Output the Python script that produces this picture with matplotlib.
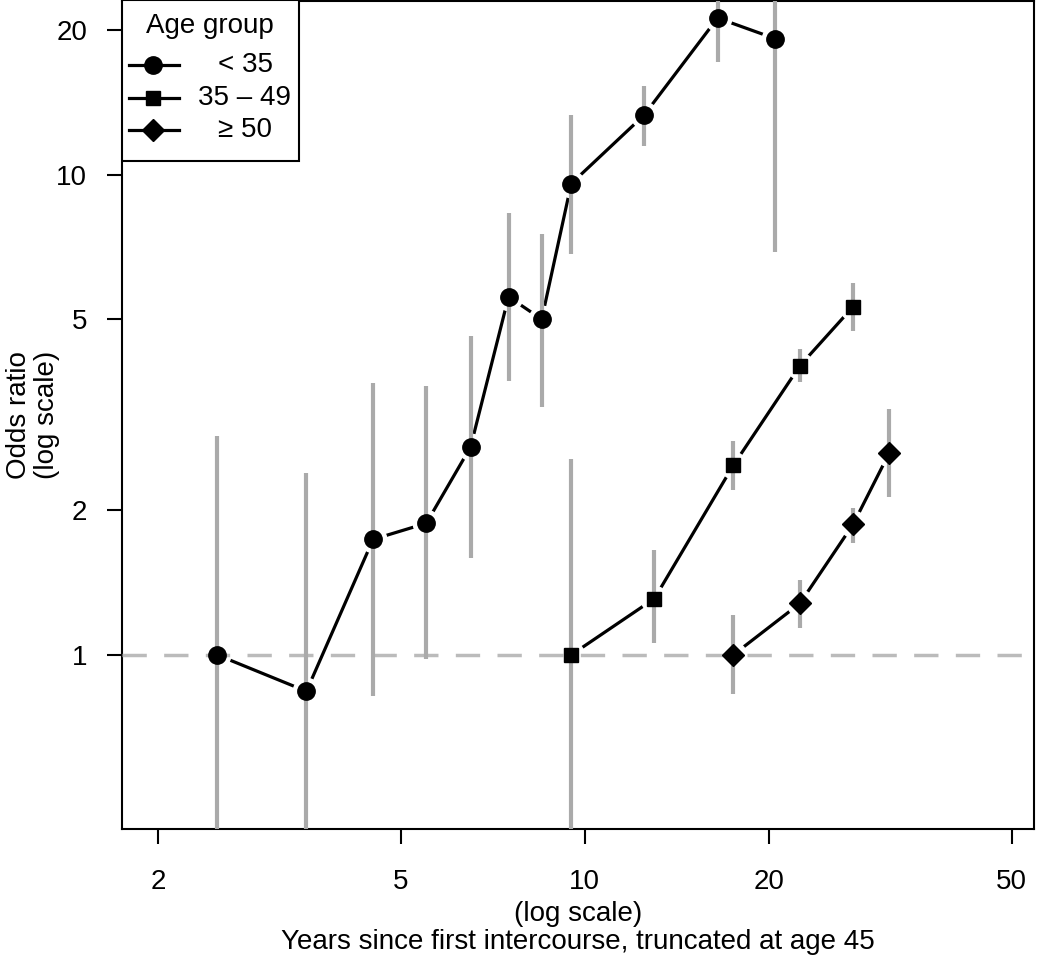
import numpy as np
import matplotlib.pyplot as plt
from matplotlib.patches import Rectangle
from matplotlib.lines import Line2D

plt.rcParams['font.family'] = ['Liberation Sans', 'DejaVu Sans']

# data
x_young = [2.5, 3.5, 4.5, 5.5, 6.5, 7.5, 8.5, 9.5, 12.5, 16.5, 20.5]
or_young = [1.0, 0.84, 1.74, 1.88, 2.71, 5.57, 5.0, 9.58, 13.3, 21.2, 19.2]
lo_young = [0.3, 0.3, 0.82, 0.98, 1.59, 3.72, 3.28, 6.85, 11.5, 17.2, 6.9]
hi_young = [2.85, 2.39, 3.69, 3.63, 4.62, 8.33, 7.54, 13.3, 15.3, 30.0, 30.0]

x_mid = [9.5, 13.0, 17.5, 22.5, 27.5]
or_mid = [1.0, 1.31, 2.48, 4.0, 5.31]
lo_mid = [0.3, 1.06, 2.2, 3.7, 4.73]
hi_mid = [2.56, 1.65, 2.79, 4.34, 5.96]

x_old = [17.5, 22.5, 27.5, 31.5]
or_old = [1.0, 1.28, 1.87, 2.63]
lo_old = [0.83, 1.14, 1.71, 2.13]
hi_old = [1.21, 1.43, 2.02, 3.25]

labels = ['< 35', '35 \u2013 49', '\u2265 50']
x_ticks = [2, 5, 10, 20, 50]
y_ticks = [1, 2, 5, 10, 20]

W, H = 1050, 959
fig = plt.figure(figsize=(W / 100, H / 100), dpi=100)
ax = fig.add_axes([122 / W, (H - 829) / H, 912 / W, 828 / H])
ax.set_xscale('log')
ax.set_yscale('log')
ax.set_xlim(1.746, 54.4)
ax.set_ylim(0.434, 23.0)

grey = '#aaaaaa'
markers = [('o', 12.5), ('s', 10.5), ('D', 11)]
groups = [(x_young, or_young, lo_young, hi_young),
          (x_mid, or_mid, lo_mid, hi_mid),
          (x_old, or_old, lo_old, hi_old)]

for (xs, ys, lo, hi), (m, ms) in zip(groups, markers):
    ax.plot(xs, ys, color='black', lw=2.3, zorder=2)
    # white halo gives the R type="b" gaps around the points
    ax.plot(xs, ys, ls='none', marker='o', ms=19, color='white', zorder=3)
    ax.vlines(xs, lo, hi, color=grey, lw=3, zorder=4)
    ax.plot(xs, ys, ls='none', marker=m, ms=ms, color='black', zorder=5)

ax.axhline(1, color='#bbbbbb', lw=2.5, dashes=(7, 5), zorder=3.5)

ax.set_xticks(x_ticks)
ax.set_xticklabels([str(t) for t in x_ticks])
ax.set_yticks(y_ticks)
ax.set_yticklabels([str(t) for t in y_ticks])
ax.minorticks_off()
ax.tick_params(axis='both', length=11, width=1.5, labelsize=20, direction='out')
ax.tick_params(axis='x', pad=18)
ax.tick_params(axis='y', pad=14)
for s in ax.spines.values():
    s.set_linewidth(1.5)

ax.set_xlabel('(log scale)\nYears since first intercourse, truncated at age 45',
              fontsize=20, linespacing=1.1)
ax.set_ylabel('Odds ratio\n(log scale)', fontsize=20, linespacing=1.1)
ax.yaxis.set_label_coords((60 - 122) / 912, 0.5)


# legend drawn by hand, positions in pixels of the figure
def axf(px, py):
    return (px - 122) / 912, (829 - py) / 828


x0, y0 = axf(122, 161)
x1, y1 = axf(299, 0)
ax.add_patch(Rectangle((x0, y0), x1 - x0, y1 - y0, transform=ax.transAxes,
                       facecolor='white', edgecolor='black', lw=1.5, zorder=10))
tx, ty = axf(210, 26)
ax.text(tx, ty, 'Age group', transform=ax.transAxes, fontsize=20,
        ha='center', va='center', zorder=11)
for i, (lab, (m, ms)) in enumerate(zip(labels, markers)):
    py = 65 + i * 32.5
    la, lb = axf(129, py)
    lc, _ = axf(179, py)
    mx, _ = axf(153, py)
    ax.add_line(Line2D([la, lc], [lb, lb], transform=ax.transAxes,
                       color='black', lw=2.3, zorder=11))
    ax.add_line(Line2D([mx], [lb], transform=ax.transAxes, marker=m, ms=ms,
                       color='black', zorder=12))
    cx, _ = axf(245, py)
    ax.text(cx, lb, lab, transform=ax.transAxes, fontsize=20,
            ha='center', va='center', zorder=11)

fig.savefig('out.png', dpi=100)
